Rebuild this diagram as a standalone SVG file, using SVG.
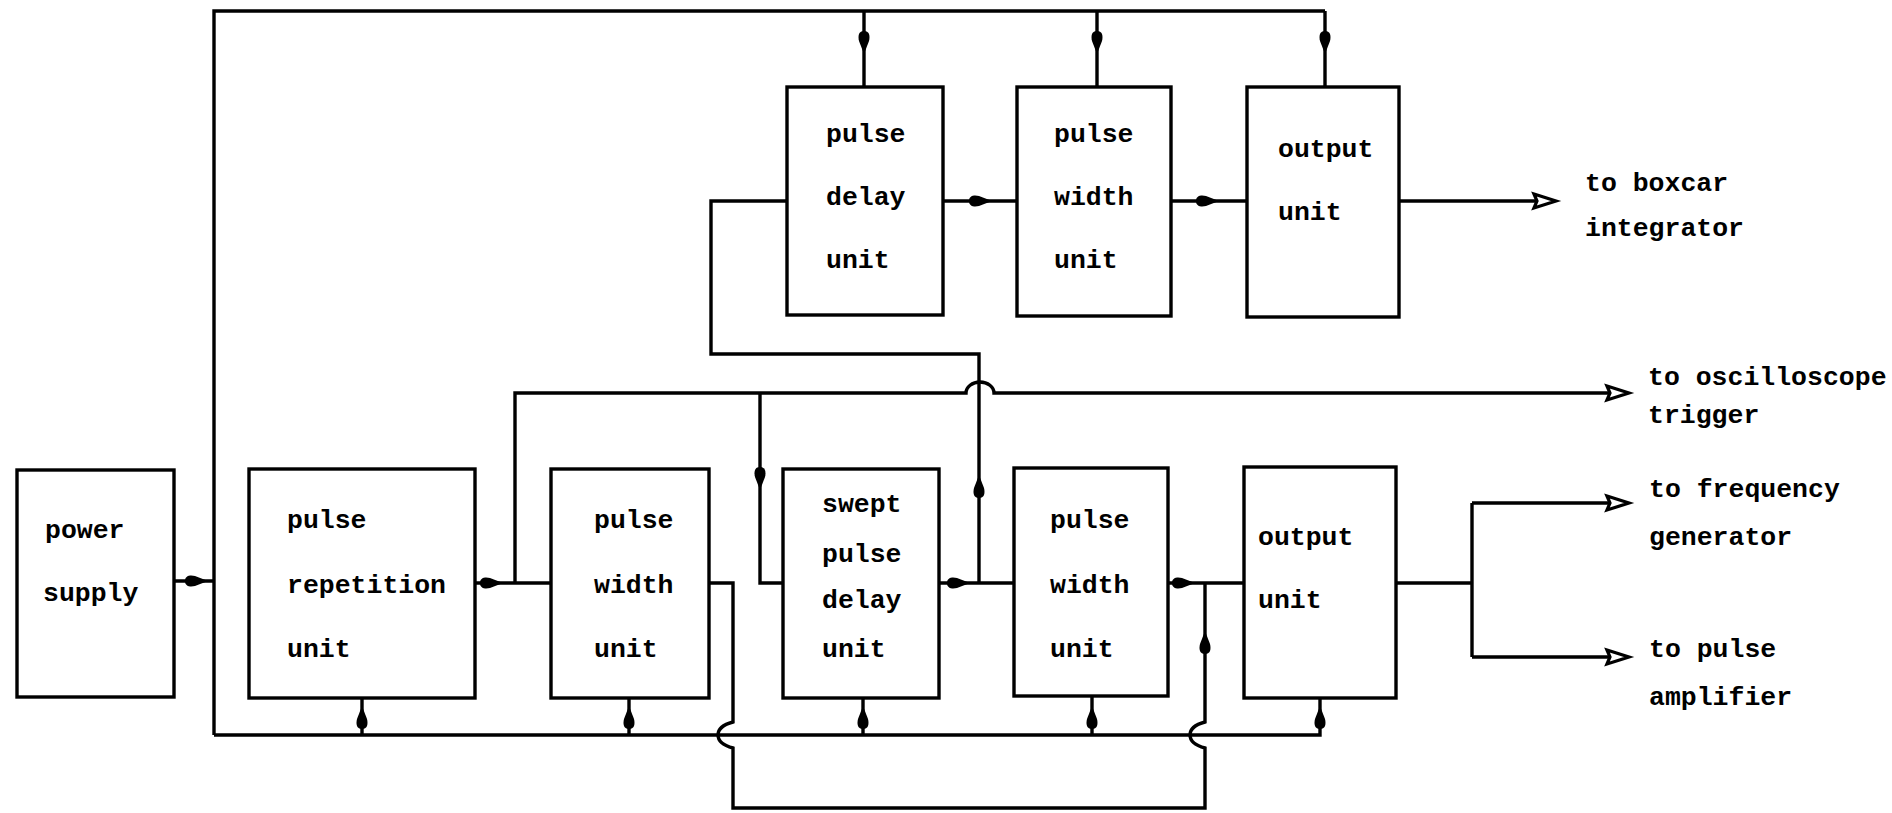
<svg xmlns="http://www.w3.org/2000/svg" xmlns:xlink="http://www.w3.org/1999/xlink" width="1892" height="813" viewBox="0 0 1892 813">
<style>
.box{fill:none;stroke:#000;stroke-width:3.4}
.ln{fill:none;stroke:#000;stroke-width:3.4;stroke-linejoin:miter}
text{font-family:"Liberation Mono","DejaVu Sans Mono",monospace;font-weight:bold;font-size:26.5px;fill:#000}
</style>
<defs>
<path id="af" d="M-11,0 C-11,-6 -5,-6 -1,-5 L12,0 L-1,5 C-5,6 -11,6 -11,0 Z" fill="#000"/>
<path id="ah" d="M-22,-7 L0,0 L-22,7 L-19,0 Z" fill="#fff" stroke="#000" stroke-width="3.2" stroke-linejoin="miter"/>
</defs>
<rect width="1892" height="813" fill="#fff"/>
<g id="connectors">
<path class="ln" d="M214,735 V11 H1325"/>
<path class="ln" d="M864,11 V87 M1097,11 V87 M1325,11 V87"/>
<use xlink:href="#af" transform="translate(864,42) rotate(90)"/>
<use xlink:href="#af" transform="translate(1097,42) rotate(90)"/>
<use xlink:href="#af" transform="translate(1325,42) rotate(90)"/>
<path class="ln" d="M943,201 H1017"/>
<use xlink:href="#af" transform="translate(980,201)"/>
<path class="ln" d="M1171,201 H1247"/>
<use xlink:href="#af" transform="translate(1207,201)"/>
<path class="ln" d="M1399,201 H1540"/>
<use xlink:href="#ah" transform="translate(1556,201)"/>
<path class="ln" d="M979,583 V354 H711 V201 H787"/>
<use xlink:href="#af" transform="translate(979,487) rotate(-90)"/>
<path class="ln" d="M515,583 V393 H966 A14,11 0 0 1 994,393 H1612"/>
<use xlink:href="#ah" transform="translate(1629,393)"/>
<path class="ln" d="M760,393 V583 H783"/>
<use xlink:href="#af" transform="translate(760,478) rotate(90)"/>
<path class="ln" d="M174,581 H214"/>
<use xlink:href="#af" transform="translate(196,581)"/>
<path class="ln" d="M475,583 H551"/>
<use xlink:href="#af" transform="translate(491,583)"/>
<path class="ln" d="M709,583 H733 V722 Q718,726 718,735 Q718,744 733,748 V808 H1205 V748 Q1190,744 1190,735 Q1190,726 1205,722 V583"/>
<use xlink:href="#af" transform="translate(1205,643) rotate(-90)"/>
<path class="ln" d="M939,583 H1014"/>
<use xlink:href="#af" transform="translate(958,583)"/>
<path class="ln" d="M1168,583 H1244"/>
<use xlink:href="#af" transform="translate(1183,583)"/>
<path class="ln" d="M214,735 H1320 V698 M362,735 V698 M629,735 V698 M863,735 V698 M1092,735 V697"/>
<use xlink:href="#af" transform="translate(362,718) rotate(-90)"/>
<use xlink:href="#af" transform="translate(629,718) rotate(-90)"/>
<use xlink:href="#af" transform="translate(863,718) rotate(-90)"/>
<use xlink:href="#af" transform="translate(1092,718) rotate(-90)"/>
<use xlink:href="#af" transform="translate(1320,718) rotate(-90)"/>
<path class="ln" d="M1396,583 H1472 M1472,503 V657 M1472,503 H1612 M1472,657 H1612"/>
<use xlink:href="#ah" transform="translate(1629,503)"/>
<use xlink:href="#ah" transform="translate(1629,657)"/>
</g>
<g id="top-pulse-delay-unit">
<rect class="box" x="787" y="87" width="156" height="228"/>
<text x="826" y="142">pulse</text><text x="826" y="205">delay</text><text x="826" y="268">unit</text>
</g>
<g id="top-pulse-width-unit">
<rect class="box" x="1017" y="87" width="154" height="229"/>
<text x="1054" y="142">pulse</text><text x="1054" y="205">width</text><text x="1054" y="268">unit</text>
</g>
<g id="top-output-unit">
<rect class="box" x="1247" y="87" width="152" height="230"/>
<text x="1278" y="157">output</text><text x="1278" y="220">unit</text>
</g>
<g id="power-supply">
<rect class="box" x="17" y="470" width="157" height="227"/>
<text x="45" y="538">power</text><text x="43" y="601">supply</text>
</g>
<g id="pulse-repetition-unit">
<rect class="box" x="249" y="469" width="226" height="229"/>
<text x="287" y="528">pulse</text><text x="287" y="593">repetition</text><text x="287" y="657">unit</text>
</g>
<g id="pulse-width-unit-1">
<rect class="box" x="551" y="469" width="158" height="229"/>
<text x="594" y="528">pulse</text><text x="594" y="593">width</text><text x="594" y="657">unit</text>
</g>
<g id="swept-pulse-delay-unit">
<rect class="box" x="783" y="469" width="156" height="229"/>
<text x="822" y="512">swept</text><text x="822" y="562">pulse</text><text x="822" y="608">delay</text><text x="822" y="657">unit</text>
</g>
<g id="pulse-width-unit-2">
<rect class="box" x="1014" y="468" width="154" height="228"/>
<text x="1050" y="528">pulse</text><text x="1050" y="593">width</text><text x="1050" y="657">unit</text>
</g>
<g id="bottom-output-unit">
<rect class="box" x="1244" y="467" width="152" height="231"/>
<text x="1258" y="545">output</text><text x="1258" y="608">unit</text>
</g>
<g id="labels">
<text x="1585" y="191">to boxcar</text><text x="1585" y="236">integrator</text>
<text x="1648" y="385">to oscilloscope</text><text x="1648" y="423">trigger</text>
<text x="1649" y="497">to frequency</text><text x="1649" y="545">generator</text>
<text x="1649" y="657">to pulse</text><text x="1649" y="705">amplifier</text>
</g>
</svg>
